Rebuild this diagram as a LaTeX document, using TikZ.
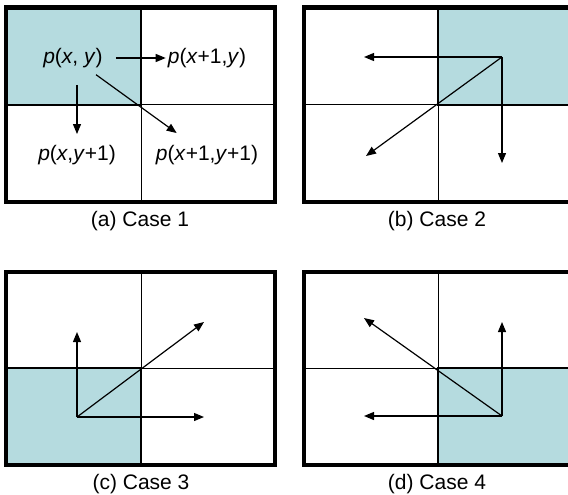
\documentclass[tikz,border=0pt]{standalone}
\usepackage{fontspec}
\setmainfont{Liberation Sans}
\usetikzlibrary{arrows.meta}
\definecolor{cellblue}{RGB}{181,219,223}
\begin{document}
\begin{tikzpicture}[x=1pt, y=-1pt,
  outerframe/.style={line width=4.5pt},
  thinline/.style={line width=1pt},
  cellline/.style={line width=2pt},
  arrow/.style={-{Triangle[length=10pt,width=8pt]}, line width=1.2pt},
  celltext/.style={font=\fontsize{21}{23}\selectfont, inner sep=2pt},
  captiontext/.style={font=\fontsize{21}{23}\selectfont, inner sep=2pt}
]
  \useasboundingbox (0,0) rectangle (568,495);
  \clip (0,0) rectangle (568,495);

  % (a) Case 1
  \fill[cellblue] (6,7.5) rectangle (141,105);
  \draw[thinline] (141,7.5) -- (141,202) (6,105) -- (275,105);
  \draw[cellline] (6,105) -- (141,105) -- (141,7.5);
  \draw[outerframe] (6,7.5) rectangle (275,202);

  \node[celltext] (pxy)   at (73,58)   {\textit{p}(\textit{x}, \textit{y})};
  \node[celltext] (px1y)  at (207,58)  {\textit{p}(\textit{x}+1,\textit{y})};
  \node[celltext] (pxy1)  at (77,155)  {\textit{p}(\textit{x},\textit{y}+1)};
  \node[celltext] (px1y1) at (207,155) {\textit{p}(\textit{x}+1,\textit{y}+1)};

  \draw[arrow, shorten <=11pt] (pxy) -- (px1y);
  \draw[arrow, shorten <=15pt, shorten >=9pt] (pxy.south -| pxy1) -- (pxy1.north);
  \draw[arrow, shorten <=8pt, shorten >=17pt] (pxy) -- (px1y1);

  \node[captiontext] (capa) at (140,221) {(a) Case 1};

  % (b) Case 2
  \fill[cellblue] (438,7.5) rectangle (573,105);
  \draw[thinline] (438,7.5) -- (438,202) (304,105) -- (573,105);
  \draw[cellline] (573,105) -- (438,105) -- (438,7.5);
  \draw[outerframe] (304,7.5) rectangle (573,202);

  \coordinate (bO) at (502,57);
  \coordinate (bL) at (364,57);
  \coordinate (bD) at (502,163);
  \coordinate (bC) at (366,156);
  \draw[arrow] (bO) -- (bL);
  \draw[arrow] (bO) -- (bD);
  \draw[arrow] (bO) -- (bC);

  \node[captiontext] (capb) at (437,221) {(b) Case 2};

  % (c) Case 3
  \fill[cellblue] (6,368) rectangle (141,465);
  \draw[thinline] (141,272) -- (141,465) (6,368) -- (275,368);
  \draw[cellline] (6,368) -- (141,368) -- (141,465);
  \draw[outerframe] (6,272) rectangle (275,465);

  \coordinate (cO) at (77,417);
  \coordinate (cU) at (77,332);
  \coordinate (cR) at (204,417);
  \coordinate (cC) at (204,322);
  \draw[arrow] (cO) -- (cU);
  \draw[arrow] (cO) -- (cR);
  \draw[arrow] (cO) -- (cC);

  \node[captiontext] (capc) at (141,484) {(c) Case 3};

  % (d) Case 4
  \fill[cellblue] (438,368) rectangle (573,465);
  \draw[thinline] (438,272) -- (438,465) (304,368) -- (573,368);
  \draw[cellline] (573,368) -- (438,368) -- (438,465);
  \draw[outerframe] (304,272) rectangle (573,465);

  \coordinate (dO) at (502,416);
  \coordinate (dU) at (502,322);
  \coordinate (dL) at (364,416);
  \coordinate (dC) at (364,318);
  \draw[arrow] (dO) -- (dU);
  \draw[arrow] (dO) -- (dL);
  \draw[arrow] (dO) -- (dC);

  \node[captiontext] (capd) at (437,484) {(d) Case 4};
\end{tikzpicture}
\end{document}
